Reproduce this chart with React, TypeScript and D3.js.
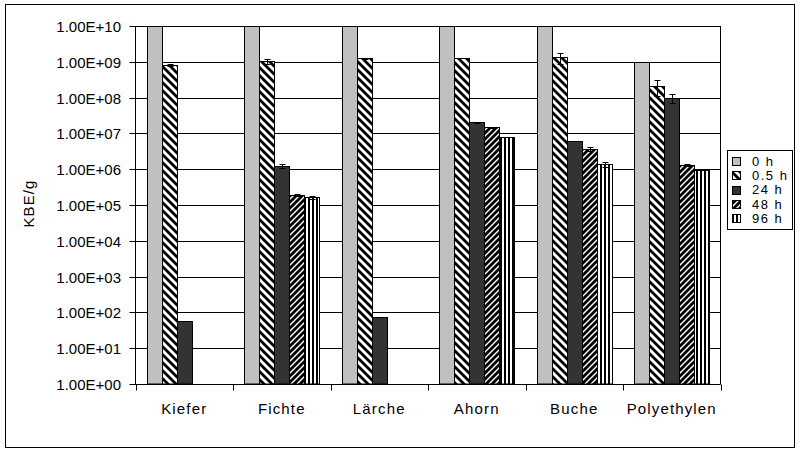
import React from "react";
import * as d3 from "d3";

const categories = ["Kiefer", "Fichte", "Lärche", "Ahorn", "Buche", "Polyethylen"];
const seriesNames = ["0 h", "0.5 h", "24 h", "48 h", "96 h"];
const values0h = [1e10, 1e10, 1e10, 1e10, 1e10, 1e9];
const values05h = [8.1e8, 1.03e9, 1.25e9, 1.25e9, 1.33e9, 2.07e8];
const values24h = [58, 1.23e6, 74, 2.04e7, 6.0e6, 1.0e8];
const values48h = [null, 1.87e5, null, 1.5e7, 3.7e6, 1.29e6];
const values96h = [null, 1.64e5, null, 7.9e6, 1.37e6, 9.8e5];
const err0h = [0, 0, 0, 0, 0, 0];
const err05h = [4e7, 1.5e8, 5e7, 0, 4.5e8, 9.5e7];
const err24h = [0, 1.4e5, 0, 5e5, 0, 3e7];
const err48h = [null, 1e4, null, 5e5, 4e5, 1e5];
const err96h = [null, 2e4, null, 0, 1.9e5, 0];
const yTicks = [1e0, 1e1, 1e2, 1e3, 1e4, 1e5, 1e6, 1e7, 1e8, 1e9, 1e10];
const yTickLabels = ["1.00E+00", "1.00E+01", "1.00E+02", "1.00E+03", "1.00E+04", "1.00E+05", "1.00E+06", "1.00E+07", "1.00E+08", "1.00E+09", "1.00E+10"];

const allValues = [values0h, values05h, values24h, values48h, values96h];
const allErrors = [err0h, err05h, err24h, err48h, err96h];
const fills = ["#C0C0C0", "url(#p05)", "#333333", "url(#p48)", "url(#p96)"];

const W = 800, H = 452;
const plot = { left: 135.5, right: 720.5, top: 26, bottom: 384 };
const FONT = "'Liberation Sans', Arial, sans-serif";

export default function App() {
  const x0 = d3.scaleBand<string>().domain(categories).range([plot.left, plot.right]).padding(0);
  const x1 = d3.scaleBand<string>().domain(seriesNames).range([0, x0.bandwidth()]).paddingInner(0).paddingOuter(0.75);
  const y = d3.scaleLog().domain([1, 1e10]).range([plot.bottom, plot.top]).clamp(true);
  const py = (v: number) => Math.round(y(v)) + 0.5;

  const bars: React.ReactNode[] = [];
  const errs: React.ReactNode[] = [];
  categories.forEach((c, ci) => {
    seriesNames.forEach((s, si) => {
      const v = allValues[si][ci];
      if (v == null) return;
      const bx = Math.round((x0(c) as number) + (x1(s) as number)) + 0.5;
      const bw = Math.round(x1.bandwidth());
      const top = py(v);
      bars.push(
        <rect key={`b${ci}-${si}`} x={bx} y={top} width={bw} height={plot.bottom - top}
          fill={fills[si]} stroke="#000" strokeWidth={1} />
      );
      const e = allErrors[si][ci];
      if (e && e > 0) {
        const cx = Math.round(bx + bw / 2) + 0.5;
        const y1 = py(v + e);
        const y2 = py(Math.max(v - e, 1));
        errs.push(
          <g key={`e${ci}-${si}`} stroke="#000" strokeWidth={1}>
            <line x1={cx} x2={cx} y1={y1} y2={y2} />
            <line x1={cx - 3} x2={cx + 3} y1={y1} y2={y1} />
            <line x1={cx - 3} x2={cx + 3} y1={y2} y2={y2} />
          </g>
        );
      }
    });
  });

  const catTicks = [...categories.map((c) => x0(c) as number), plot.right];
  const legendY0 = 160.7, legendStep = 14.4;

  return (
    <svg width={W} height={H} viewBox={`0 0 ${W} ${H}`}
      style={{ position: "absolute", left: 0, top: 0, background: "#fff" }}
      fontFamily={FONT}>
      <defs>
        <pattern id="p05" patternUnits="userSpaceOnUse" width={8} height={8}>
          <rect width={8} height={8} fill="#fff" />
          <path d="M-2,-2 L10,10 M-2,6 L2,10 M6,-2 L10,2" stroke="#000" strokeWidth={2.8} />
        </pattern>
        <pattern id="p48" patternUnits="userSpaceOnUse" width={6} height={6}>
          <rect width={6} height={6} fill="#fff" />
          <path d="M-2,8 L8,-2 M-2,2 L2,-2 M4,8 L8,4" stroke="#000" strokeWidth={2.8} />
        </pattern>
        <pattern id="p96" patternUnits="userSpaceOnUse" width={4} height={4}>
          <rect width={4} height={4} fill="#fff" />
          <rect x={0} width={2} height={4} fill="#000" />
        </pattern>
        <clipPath id="plotClip">
          <rect x={plot.left} y={plot.top} width={plot.right - plot.left} height={plot.bottom - plot.top + 1} />
        </clipPath>
      </defs>
      <rect x={0} y={0} width={W} height={H} fill="#fff" />
      <rect x={5.5} y={4.5} width={789} height={443} fill="none" stroke="#000" strokeWidth={1} />

      {yTicks.map((t, i) => (
        <line key={`g${i}`} x1={plot.left} x2={plot.right} y1={py(t)} y2={py(t)} stroke="#000" strokeWidth={1} />
      ))}

      <g clipPath="url(#plotClip)">{bars}</g>
      <g>{errs}</g>

      <line x1={plot.right} x2={plot.right} y1={plot.top} y2={plot.bottom} stroke="#000" />
      <line x1={plot.left} x2={plot.right} y1={py(1e10)} y2={py(1e10)} stroke="#000" />
      <line x1={plot.left} x2={plot.left} y1={plot.top} y2={py(1)} stroke="#000" />
      <line x1={plot.left} x2={plot.right} y1={py(1)} y2={py(1)} stroke="#000" />

      {yTicks.map((t, i) => (
        <g key={`yt${i}`}>
          <line x1={plot.left - 6} x2={plot.left} y1={py(t)} y2={py(t)} stroke="#000" />
          <text x={121} y={py(t) + 5.5} textAnchor="end" fontSize={15} fill="#000">{yTickLabels[i]}</text>
        </g>
      ))}

      {catTicks.map((cx, i) => (
        <line key={`xt${i}`} x1={Math.round(cx) + 0.5} x2={Math.round(cx) + 0.5} y1={py(1)} y2={py(1) + 6} stroke="#000" />
      ))}
      {categories.map((c) => (
        <text key={`xl${c}`} x={(x0(c) as number) + x0.bandwidth() / 2} y={413.5} textAnchor="middle"
          fontSize={15} letterSpacing={1.15} fill="#000">{c}</text>
      ))}

      <text transform="translate(34,203.5) rotate(-90)" textAnchor="middle" fontSize={15} letterSpacing={1.1} fill="#000">KBE/g</text>

      <rect x={727.5} y={150.5} width={65} height={79} fill="#fff" stroke="#000" strokeWidth={1} />
      {seriesNames.map((s, i) => {
        const cy = legendY0 + i * legendStep;
        return (
          <g key={`lg${i}`}>
            <rect x={732.5} y={Math.round(cy - 4) + 0.5} width={8} height={8} fill={fills[i]} stroke="#000" strokeWidth={1} />
            <text x={752} y={cy + 4.8} fontSize={13} letterSpacing={1.5} fill="#000">{s}</text>
          </g>
        );
      })}
    </svg>
  );
}
